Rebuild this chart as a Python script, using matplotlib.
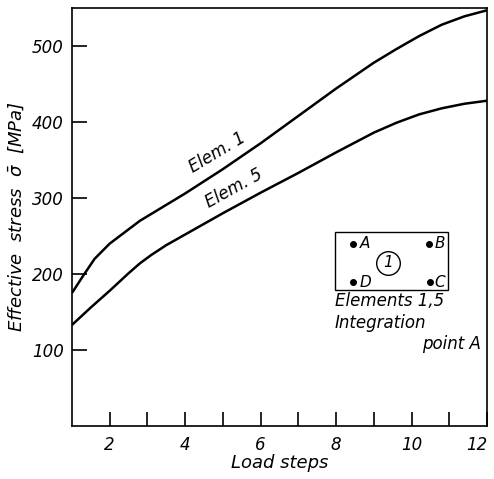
import numpy as np
import matplotlib
matplotlib.use("Agg")
from matplotlib import pyplot as plt
from matplotlib.patches import Rectangle

# values
steps_1 = [1.0, 1.3, 1.6, 2.0, 2.4, 2.8, 3.2, 4.0, 5.0, 6.0, 7.0, 8.0, 9.0, 9.6, 10.2, 10.8, 11.4, 12.0]
elem_1 = [175, 198, 220, 240, 255, 270, 282, 306, 338, 372, 408, 444, 478, 496, 513, 528, 539, 547]

steps_5 = [1.0, 1.5, 2.0, 2.5, 2.8, 3.1, 3.5, 4.0, 5.0, 6.0, 7.0, 8.0, 9.0, 9.6, 10.2, 10.8, 11.4, 12.0]
elem_5 = [133, 156, 178, 201, 214, 225, 238, 252, 280, 307, 333, 360, 386, 399, 410, 418, 424, 428]

x_ticks = [2, 3, 4, 5, 6, 7, 8, 9, 10, 11, 12]
x_tick_labels = ["2", "", "4", "", "6", "", "8", "", "10", "", "12"]
y_ticks = [100, 200, 300, 400, 500]

font = ['Liberation Sans Narrow', 'DejaVu Sans']
plt.rcParams['font.family'] = font
plt.rcParams['font.style'] = 'italic'
plt.rcParams['mathtext.fontset'] = 'dejavusans'

fig = plt.figure(figsize=(4.94, 4.79), dpi=100)
ax = fig.add_axes([0.1457, 0.1106, 0.8401, 0.8727])

ax.plot(steps_1, elem_1, color='black', lw=1.8, solid_capstyle='butt')
ax.plot(steps_5, elem_5, color='black', lw=1.8, solid_capstyle='butt')

ax.set_xlim(1, 12)
ax.set_ylim(0, 550)
ax.set_xticks(x_ticks)
ax.set_xticklabels(x_tick_labels)
ax.set_yticks(y_ticks)
ax.tick_params(axis='x', direction='in', length=10, width=1.2, pad=7, labelsize=12)
ax.tick_params(axis='y', direction='in', length=11, width=1.2, pad=6, labelsize=12)
ax.get_xticklabels()[-1].set_horizontalalignment('right')
for s in ax.spines.values():
    s.set_linewidth(1.2)

ax.set_xlabel("Load steps", fontsize=13, labelpad=0)
ax.set_ylabel(r"Effective  stress  $\bar{\sigma}$  [MPa]", fontsize=13, labelpad=4)

# curve labels
ax.text(4.85, 360, "Elem. 1", fontsize=12, rotation=31, ha='center', va='center')
ax.text(5.3, 312, "Elem. 5", fontsize=12, rotation=29, ha='center', va='center')

# element sketch
ax.add_patch(Rectangle((7.97, 179), 3.0, 76, fill=False, lw=1.0, color='black'))
ax.plot([8.46, 10.45, 8.46, 10.48], [240, 240, 189, 189], 'o', color='black', ms=4)
ax.text(8.62, 240, "A", fontsize=11, va='center')
ax.text(10.6, 240, "B", fontsize=11, va='center')
ax.text(8.62, 189, "D", fontsize=11, va='center')
ax.text(10.6, 189, "C", fontsize=11, va='center')
ax.plot([9.38], [215], 'o', ms=17, mfc='none', mec='black', mew=1.0)
ax.text(9.38, 215, "1", fontsize=11, ha='center', va='center')

ax.text(7.97, 164, "Elements 1,5", fontsize=12, va='center')
ax.text(7.97, 136, "Integration", fontsize=12, va='center')
ax.text(11.85, 108, "point A", fontsize=12, va='center', ha='right')

fig.savefig("out.png", dpi=100)
